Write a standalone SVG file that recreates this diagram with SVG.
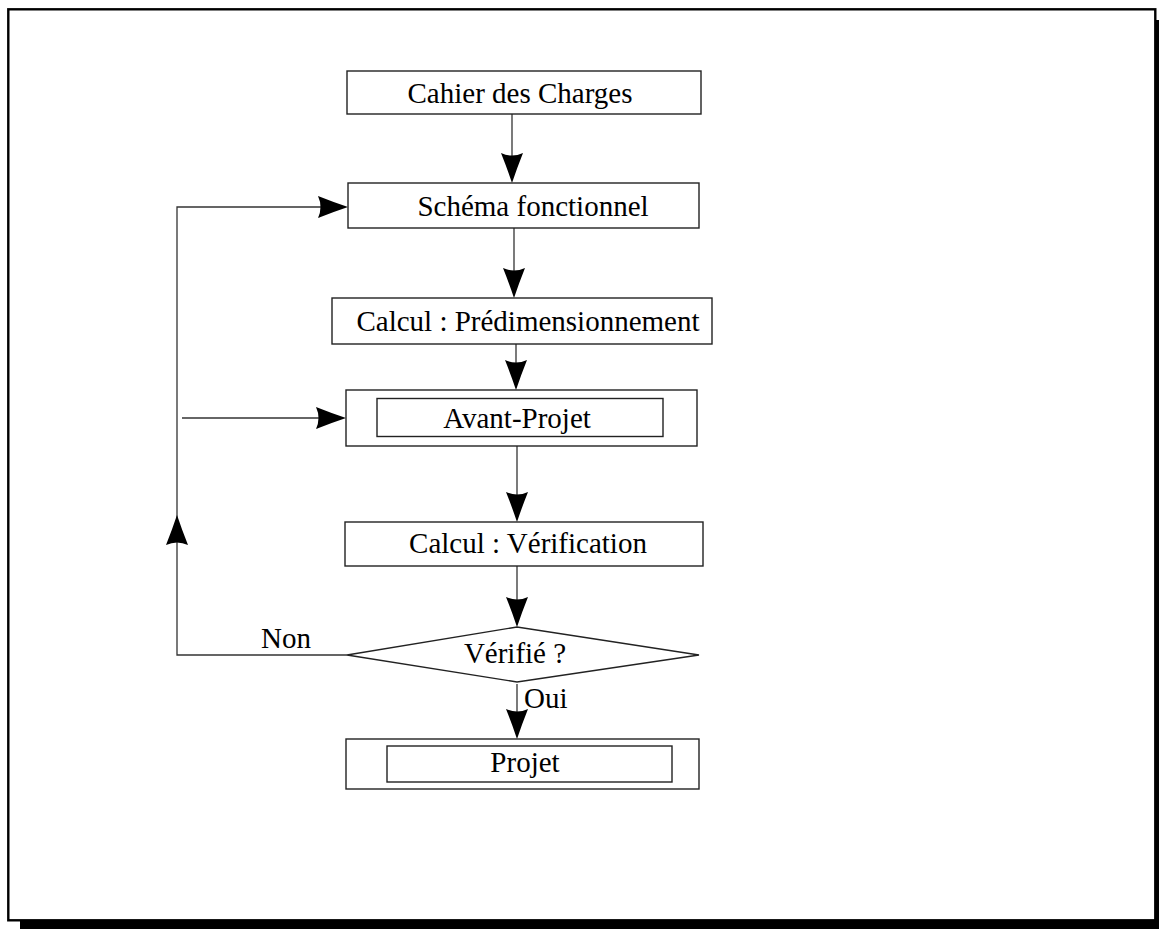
<svg xmlns="http://www.w3.org/2000/svg" width="1159" height="929" viewBox="0 0 1159 929">
<style>
.box{fill:#fff;stroke:#222;stroke-width:1.4}
.ln{fill:none;stroke:#333;stroke-width:1.3}
.t{font-family:"Liberation Serif","Times New Roman",serif;font-size:29px;fill:#000;text-anchor:middle}
.tl{font-family:"Liberation Serif","Times New Roman",serif;font-size:29px;fill:#000}
</style>
<defs>
<path id="ahd" d="M0,0 Q-5,-15 -11,-30 Q0,-25 11,-30 Q5,-15 0,0 Z" fill="#000"/>
</defs>
<rect width="1159" height="929" fill="#fff"/>
<g id="frame">
<rect x="1155.5" y="20" width="3.5" height="909" fill="#000"/>
<rect x="20" y="920.5" width="1139" height="8.5" fill="#000"/>
<rect x="8.3" y="9.3" width="1147" height="911" fill="none" stroke="#000" stroke-width="2.4"/>
</g>
<g id="connectors">
<line class="ln" x1="512" y1="114" x2="512" y2="170"/>
<use href="#ahd" transform="translate(512,183)"/>
<line class="ln" x1="514" y1="228" x2="514" y2="285"/>
<use href="#ahd" transform="translate(514,298)"/>
<line class="ln" x1="516" y1="344" x2="516" y2="378"/>
<use href="#ahd" transform="translate(516,390)"/>
<line class="ln" x1="517" y1="446" x2="517" y2="510"/>
<use href="#ahd" transform="translate(517,522)"/>
<line class="ln" x1="517" y1="566" x2="517" y2="615"/>
<use href="#ahd" transform="translate(517,627)"/>
<line class="ln" x1="517" y1="684" x2="517" y2="727"/>
<use href="#ahd" transform="translate(517,739)"/>
<polyline class="ln" points="347,655 177,655 177,207 336,207"/>
<use href="#ahd" transform="translate(348,207) rotate(-90)"/>
<use href="#ahd" transform="translate(177,515) rotate(180)"/>
<line class="ln" x1="182" y1="418" x2="334" y2="418"/>
<use href="#ahd" transform="translate(346,418) rotate(-90)"/>
<text class="tl" x="261" y="648">Non</text>
<text class="tl" x="524" y="708">Oui</text>
</g>
<g id="n1">
<rect class="box" x="347" y="71" width="354" height="43"/>
<text class="t" x="520" y="103">Cahier des Charges</text>
</g>
<g id="n2">
<rect class="box" x="348" y="183" width="351" height="45"/>
<text class="t" x="533" y="216">Schéma fonctionnel</text>
</g>
<g id="n3">
<rect class="box" x="332" y="298" width="380" height="46"/>
<text class="t" x="528" y="331">Calcul : Prédimensionnement</text>
</g>
<g id="n4">
<rect class="box" x="346" y="390" width="351" height="56"/>
<rect class="box" x="377" y="398.5" width="286" height="38"/>
<text class="t" x="517" y="428">Avant-Projet</text>
</g>
<g id="n5">
<rect class="box" x="345" y="522" width="358" height="44"/>
<text class="t" x="528" y="553">Calcul : Vérification</text>
</g>
<g id="n6">
<polygon class="box" points="347,655 517,627 699,655 517,682"/>
<text class="t" x="515" y="663">Vérifié ?</text>
</g>
<g id="n7">
<rect class="box" x="346" y="739" width="353" height="50"/>
<rect class="box" x="387" y="746" width="285" height="36"/>
<text class="t" x="525" y="772">Projet</text>
</g>
</svg>
